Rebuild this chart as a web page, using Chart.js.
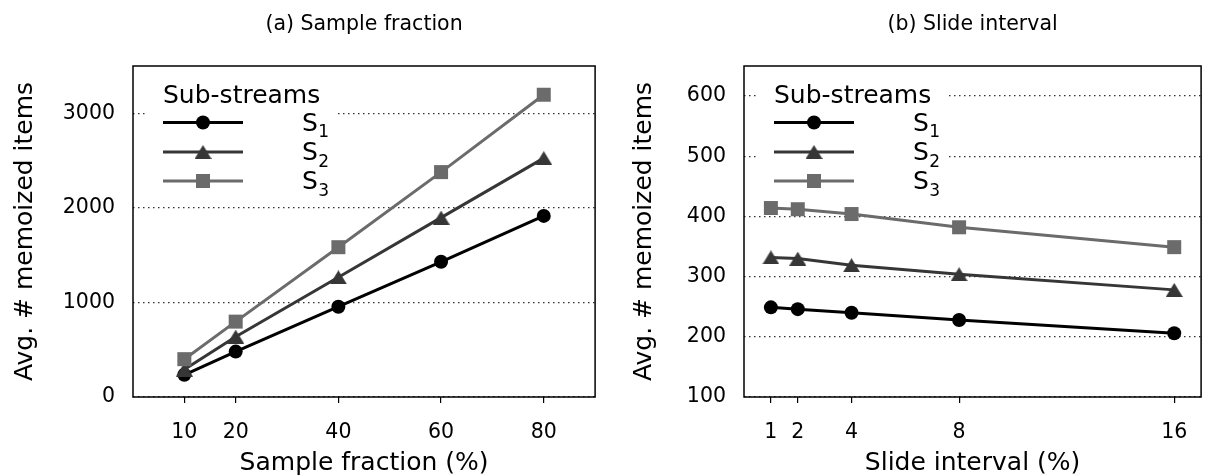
<!DOCTYPE html>
<html><head><meta charset="utf-8">
<script src="https://cdn.jsdelivr.net/npm/chart.js@4.4.1/dist/chart.umd.min.js"></script>
<style>
html,body{margin:0;padding:0;background:#fff;}
#wrap{position:relative;width:1211px;height:475px;overflow:hidden;}
canvas{position:absolute;top:0;}
#c1{left:0;} #c2{left:605px;}
</style></head><body>
<div id="wrap"><canvas id="c1" width="605" height="475"></canvas><canvas id="c2" width="606" height="475"></canvas></div>
<script>
// ---- data ----
const seriesLabels = ['1', '2', '3'];          // subscripts of S
const legendTitle = 'Sub-streams';
const yAxisTitle = 'Avg. # memoized items';

const titleA = '(a) Sample fraction';
const xTitleA = 'Sample fraction (%)';
const sampleFractions = [10, 20, 40, 60, 80];
const sampleS1 = [235, 480, 955, 1430, 1915];
const sampleS2 = [290, 638, 1266, 1897, 2526];
const sampleS3 = [400, 797, 1584, 2378, 3196];
const sampleYTicks = [0, 1000, 2000, 3000];

const titleB = '(b) Slide interval';
const xTitleB = 'Slide interval (%)';
const slideIntervals = [1, 2, 4, 8, 16];
const slideS1 = [249, 246, 240, 228, 206];
const slideS2 = [332, 330, 319, 304, 278];
const slideS3 = [414, 412, 404, 382, 349];
const slideYTicks = [100, 200, 300, 400, 500, 600];

// ---- styles ----
const FONT = "'DejaVu Sans', 'Liberation Sans', sans-serif";
const COLORS = ['#000000', '#363636', '#6b6b6b'];

function triCanvas(color, w, h) {
  const c = document.createElement('canvas');
  c.width = w; c.height = h;
  const g = c.getContext('2d');
  g.fillStyle = color;
  g.beginPath(); g.moveTo(w / 2, 0); g.lineTo(w, h); g.lineTo(0, h); g.closePath(); g.fill();
  return c;
}
const TRI = triCanvas(COLORS[1], 17, 14);
const MARKERS = [
  { pointStyle: 'circle', pointRadius: 7 },
  { pointStyle: TRI, pointRadius: 8 },
  { pointStyle: 'rect', pointRadius: 9.9 }
];

function makeDatasets(xs, ys) {
  return ys.map((arr, i) => ({
    label: 'S' + seriesLabels[i],
    data: xs.map((x, j) => ({ x: x, y: arr[j] })),
    borderColor: COLORS[i],
    backgroundColor: COLORS[i],
    pointBackgroundColor: COLORS[i],
    pointBorderColor: COLORS[i],
    pointBorderWidth: 0,
    borderWidth: 3,
    pointStyle: MARKERS[i].pointStyle,
    pointRadius: MARKERS[i].pointRadius,
    pointHoverRadius: MARKERS[i].pointRadius,
    tension: 0,
    fill: false,
    order: 3 - i
  }));
}

function drawMarker(ctx, i, x, y) {
  ctx.fillStyle = COLORS[i];
  if (i === 0) { ctx.beginPath(); ctx.arc(x, y, 7, 0, Math.PI * 2); ctx.fill(); }
  else if (i === 1) { ctx.drawImage(TRI, x - TRI.width / 2, y - TRI.height / 2); }
  else { ctx.fillRect(x - 7, y - 7, 14, 14); }
}

const customPlugin = {
  id: 'custom',
  beforeDatasetsDraw(chart) {
    const ctx = chart.ctx;
    const a = chart.chartArea;
    ctx.save();
    // legend box (hides grid)
    ctx.fillStyle = '#fff';
    ctx.fillRect(a.left + 14, 70, 190, 130);
    const lx = a.left + 30;
    ctx.fillStyle = '#000';
    ctx.font = '25px ' + FONT;
    ctx.textBaseline = 'alphabetic';
    ctx.textAlign = 'left';
    ctx.fillText(legendTitle, lx, 103);
    const rows = [122.5, 152, 181];
    rows.forEach((ry, i) => {
      ctx.strokeStyle = COLORS[i];
      ctx.lineWidth = 3;
      ctx.beginPath(); ctx.moveTo(lx, ry); ctx.lineTo(lx + 80, ry); ctx.stroke();
      drawMarker(ctx, i, lx + 40, ry);
      ctx.fillStyle = '#000';
      ctx.font = '25px ' + FONT;
      const sx = lx + 139;
      ctx.fillText('S', sx, ry + 8);
      const w = ctx.measureText('S').width;
      ctx.font = '17px ' + FONT;
      ctx.fillText(seriesLabels[i], sx + w + 0.5, ry + 14.5);
    });
    ctx.restore();
  },
  afterDraw(chart) {
    const o = chart.options.plugins.custom;
    const ctx = chart.ctx;
    const a = chart.chartArea;
    ctx.save();
    // frame
    ctx.strokeStyle = '#000';
    ctx.lineWidth = 1.5;
    ctx.strokeRect(a.left, a.top, a.right - a.left, a.bottom - a.top);
    const cx = (a.left + a.right) / 2;
    ctx.fillStyle = '#000';
    ctx.textAlign = 'center';
    ctx.textBaseline = 'alphabetic';
    ctx.font = '20.5px ' + FONT;
    ctx.fillText(o.title, cx, 30);
    ctx.font = '25px ' + FONT;
    ctx.fillText(o.xTitle, cx, 470);
    ctx.translate(o.yTitleX, (a.top + a.bottom) / 2);
    ctx.rotate(-Math.PI / 2);
    ctx.fillText(yAxisTitle, 0, 0);
    ctx.restore();
  }
};

function makeChart(id, xs, ys, xMin, xMax, yTicks, yMin, yMax, yAxisW, padRight, texts) {
  return new Chart(document.getElementById(id), {
    type: 'line',
    data: { datasets: makeDatasets(xs, ys) },
    plugins: [customPlugin],
    options: {
      responsive: false,
      animation: false,
      events: [],
      layout: { padding: { top: 66, right: padRight, bottom: 0, left: 0 } },
      plugins: { legend: { display: false }, tooltip: { enabled: false }, title: { display: false }, custom: texts },
      scales: {
        x: {
          type: 'linear', min: xMin, max: xMax,
          afterBuildTicks: s => { s.ticks = xs.map(v => ({ value: v })); },
          afterFit: s => { s.height = 78; },
          ticks: { font: { family: FONT, size: 20.5 }, color: '#000', padding: 17.5, maxRotation: 0, autoSkip: false, callback: v => String(v) },
          grid: { drawOnChartArea: false, drawTicks: true, tickLength: 6, color: '#000', lineWidth: 1.2 },
          border: { display: false }
        },
        y: {
          type: 'linear', min: yMin, max: yMax,
          afterBuildTicks: s => { s.ticks = yTicks.map(v => ({ value: v })); },
          afterFit: s => { s.width = yAxisW; },
          ticks: { font: { family: FONT, size: 20.5 }, color: '#000', padding: 18, autoSkip: false, callback: v => String(v) },
          grid: { drawTicks: false, color: '#333', lineWidth: 1.3 },
          border: { display: false, dash: [1.5, 3.5] }
        }
      }
    }
  });
}

makeChart('c1', sampleFractions, [sampleS1, sampleS2, sampleS3], 0, 90, sampleYTicks, 0, 3500, 133, 6,
  { title: titleA, xTitle: xTitleA, yTitleX: 31.5 });
makeChart('c2', slideIntervals, [slideS1, slideS2, slideS3], 0, 17, slideYTicks, 100, 650, 139, 2,
  { title: titleB, xTitle: xTitleB, yTitleX: 46 });
</script>
</body></html>
